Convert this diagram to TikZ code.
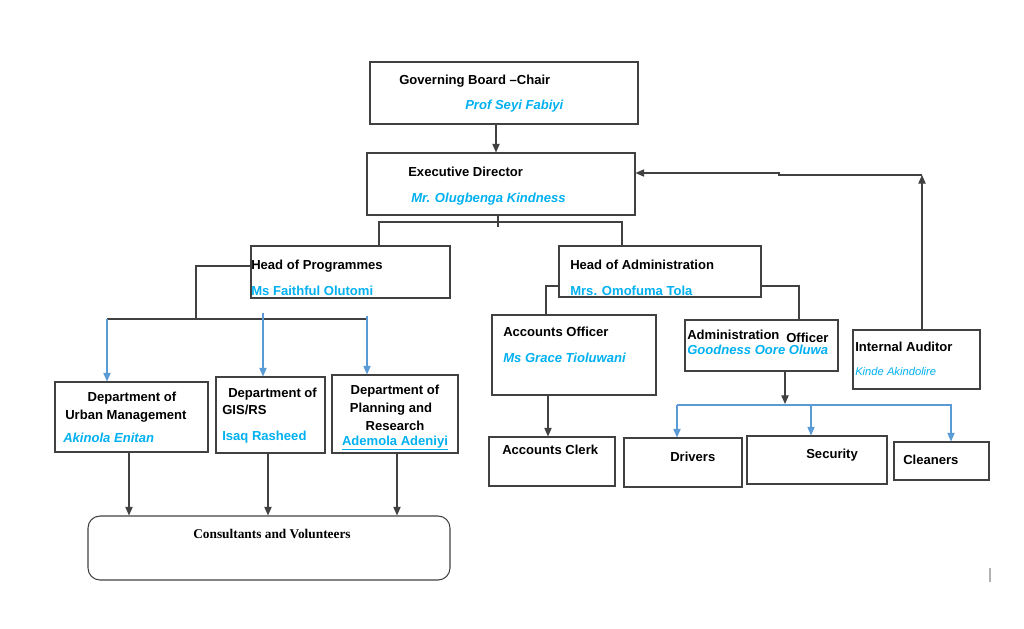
\documentclass[tikz,border=0pt]{standalone}
\usepackage{fontspec}
\setmainfont{Liberation Sans}
\newfontfamily\serifbold{Liberation Serif}
\usetikzlibrary{arrows.meta,fit}
\definecolor{nameblue}{RGB}{0,176,240}
\definecolor{linkblue}{RGB}{91,155,213}
\definecolor{ln}{RGB}{65,65,65}
\begin{document}
\begin{tikzpicture}[x=0.75pt,y=-0.75pt,
  box/.style={draw=ln, line width=0.8pt, inner sep=0pt},
  lbl/.style={anchor=base west, inner sep=0pt, font=\fontsize{9.8}{11}\selectfont\bfseries},
  clbl/.style={lbl, anchor=base},
  nm/.style={lbl, text=nameblue, font=\fontsize{9.8}{11}\selectfont\bfseries\itshape},
  nmu/.style={lbl, text=nameblue},
  conn/.style={draw=ln, line width=0.8pt},
  arr/.style={conn, -{Triangle[length=6.5pt,width=5.5pt]}},
  barr/.style={draw=linkblue, line width=0.8pt, -{Triangle[length=6.5pt,width=5.5pt]}}
]
\useasboundingbox (0,0) rectangle (1024,628);
% column / row helper coordinates
\foreach \x in {107,129,196,263,268,367,379,397,496,546,548,622,677,779,785,799,811,922,951}
  \coordinate (c\x) at (\x,0);
\foreach \y in {173,175,222,313,316,319,404,405}
  \coordinate (r\y) at (0,\y);

% boxes
\node[box, fit={(370,62) (638,124)}] (gb) {};
\node[box, fit={(367,153) (635,215)}] (ed) {};
\node[box, fit={(251,246) (450,298)}] (hop) {};
\node[box, fit={(559,246) (761,297)}] (hoa) {};
\node[box, fit={(55,382) (208,452)}] (urb) {};
\node[box, fit={(216,377) (325,453)}] (gis) {};
\node[box, fit={(332,375) (458,453)}] (plan) {};
\node[box, rounded corners=9pt, fit={(88,516) (450,580)}] (cons) {};
\node[box, fit={(492,315) (656,395)}] (ao) {};
\node[box, fit={(685,320) (838,371)}] (adm) {};
\node[box, fit={(853,330) (980,389)}] (ia) {};
\node[box, fit={(489,437) (615,486)}] (ac) {};
\node[box, fit={(624,438) (742,487)}] (drv) {};
\node[box, fit={(747,436) (887,484)}] (sec) {};
\node[box, fit={(894,442) (989,480)}] (cln) {};

% texts
\node[lbl] (t1) at (399,84) {Governing Board –Chair};
\node[nm] (t2) at (465,109) {Prof Seyi Fabiyi};
\node[lbl] (t3) at (408,176) {Executive Director};
\node[nm] (t4) at (411,202) {Mr. Olugbenga Kindness};
\node[lbl] (t5) at (251,269) {Head of Programmes};
\node[nmu] (t6) at (251,295) {Ms Faithful Olutomi};
\node[lbl] (t7) at (570,269) {Head of Administration};
\node[nmu] (t8) at (570,295) {Mrs. Omofuma Tola};
\node[lbl] (t9) at (503,336) {Accounts Officer};
\node[nm] (t10) at (503,362) {Ms Grace Tioluwani};
\node[lbl] (t11) at (687,339) {Administration};
\node[lbl] (t12) at (786,342) {Officer};
\node[nm] (t13) at (687,354) {Goodness Oore Oluwa};
\node[lbl] (t14) at (855,351) {Internal Auditor};
\node[lbl, text=nameblue, font=\fontsize{8.4}{10}\selectfont\itshape] (t15) at (855,375) {Kinde Akindolire};
\node[clbl] (t16) at (132,401) {Department of};
\node[lbl] (t17) at (65,419) {Urban Management};
\node[nm] (t18) at (63,442) {Akinola Enitan};
\node[lbl] (t19) at (228,397) {Department of};
\node[lbl] (t20) at (222,414) {GIS/RS};
\node[nmu] (t21) at (222,440) {Isaq Rasheed};
\node[clbl] (t22) at (395,394) {Department of};
\node[clbl] (t23) at (391,412) {Planning and};
\node[clbl] (t24) at (395,430) {Research};
\node[clbl, text=nameblue] (t25) at (395,445) {\underline{Ademola Adeniyi}};
\node[anchor=base, inner sep=0pt, font=\fontsize{10}{12}\selectfont\serifbold\bfseries] (t26) at (272,538) {Consultants and Volunteers};
\node[lbl] (t27) at (502,454) {Accounts Clerk};
\node[lbl] (t28) at (670,461) {Drivers};
\node[lbl] (t29) at (806,458) {Security};
\node[lbl] (t30) at (903,464) {Cleaners};

% connectors
\draw[arr] ([shift={(-8,0)}]gb.south) -- ([shift={(-8,0)}]gb.south |- ed.north);
\draw[conn] ([shift={(-3,0)}]ed.south) -- ++(0,11);
\draw[conn] (c379 |- hop.north) -- (c379 |- r222) -- (c622 |- r222) -- (c622 |- hoa.north);
\draw[conn] ([shift={(0,-6)}]hop.west) -| (c196 |- r319);
\draw[conn] (c107 |- r319) -- (c367 |- r319);
\draw[barr] (c107 |- r319) -- (c107 |- urb.north);
\draw[barr] (c263 |- r313) -- (c263 |- gis.north);
\draw[barr] (c367 |- r316) -- (c367 |- plan.north);
\draw[arr] (c129 |- urb.south) -- (c129 |- cons.north);
\draw[arr] (c268 |- gis.south) -- (c268 |- cons.north);
\draw[arr] (c397 |- plan.south) -- (c397 |- cons.north);
\draw[conn] ([shift={(0,14.5)}]hoa.west) -| (c546 |- ao.north);
\draw[conn] ([shift={(0,14.5)}]hoa.east) -| (c799 |- adm.north);
\draw[arr] (c548 |- ao.south) -- (c548 |- ac.north);
\draw[arr] (c785 |- adm.south) -- (c785 |- r404);
\draw[draw=linkblue, line width=0.8pt] (c677 |- r405) -- (952,405);
\draw[barr] (c677 |- r405) -- (c677 |- drv.north);
\draw[barr] (c811 |- r404) -- (c811 |- sec.north);
\draw[barr] (c951 |- r405) -- (c951 |- cln.north);
\draw[arr] (c922 |- ia.north) -- (c922 |- r175);
\draw[arr] (c922 |- r175) -- (c779 |- r175) -- (c779 |- r173) -- (ed.east |- r173);

% stray cursor mark
\draw[gray!60, line width=1pt] (990,568) -- (990,582);
\end{tikzpicture}
\end{document}
